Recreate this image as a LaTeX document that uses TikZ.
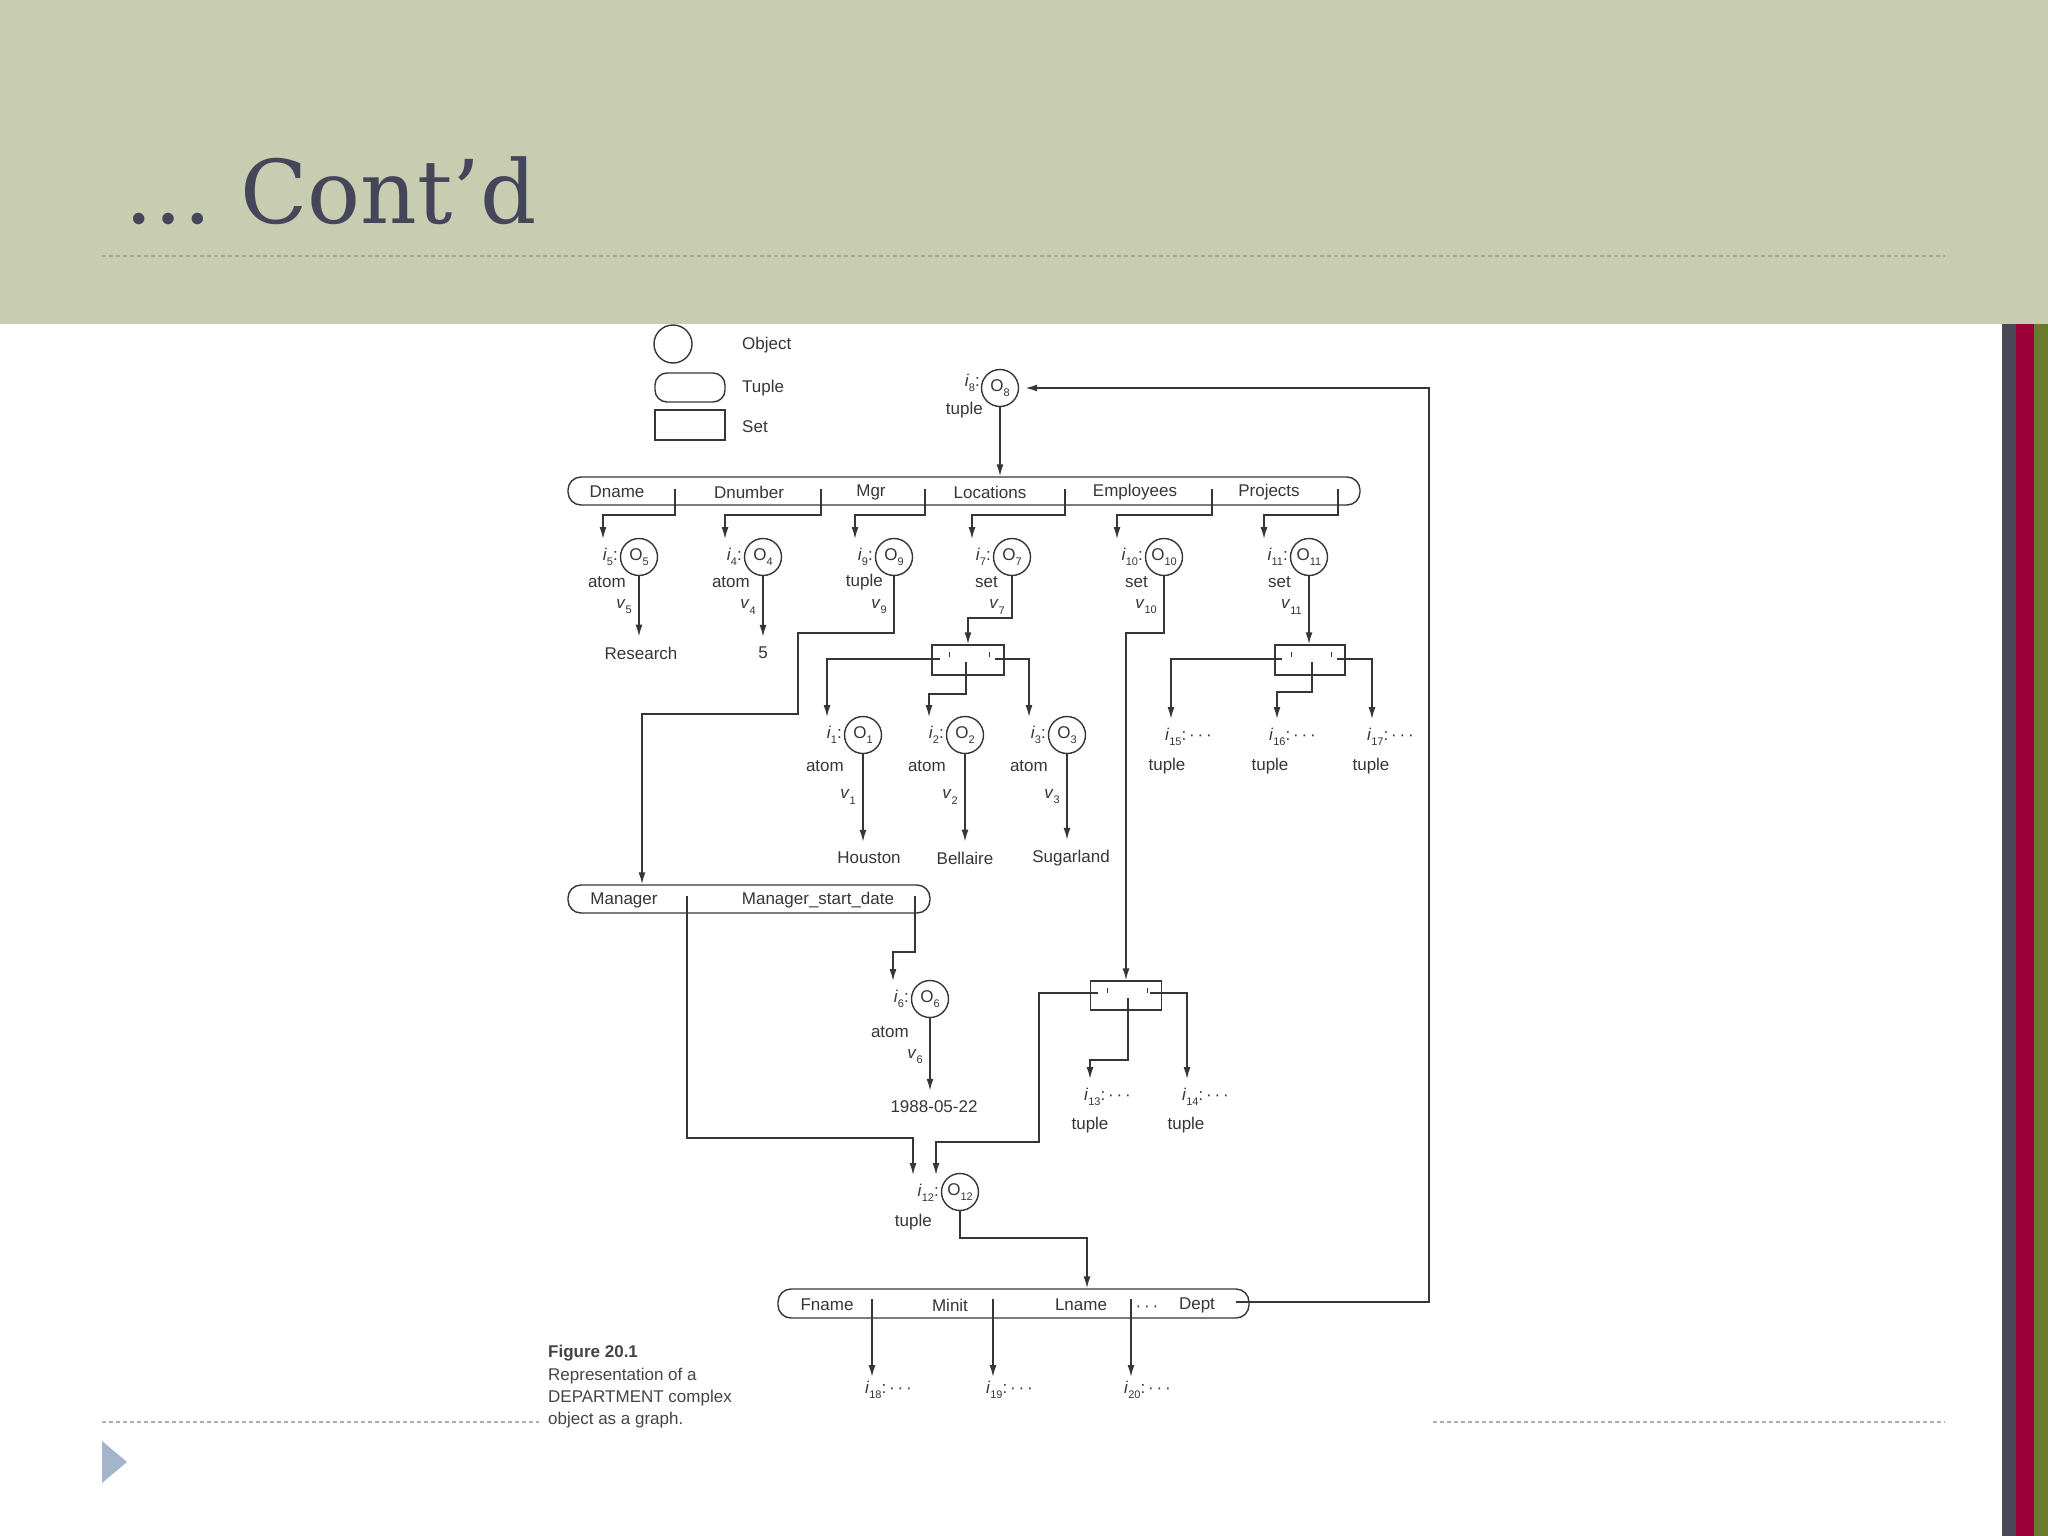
\documentclass[tikz,border=0pt]{standalone}
\usepackage{fontspec}
\setmainfont{Liberation Sans}
\newfontfamily\titlefont{DejaVu Serif}
\usetikzlibrary{arrows.meta,calc}
\definecolor{band}{HTML}{C8CCB1}
\definecolor{ink}{HTML}{363636}
\definecolor{titlec}{HTML}{46465A}
\definecolor{stripA}{HTML}{4A4856}
\definecolor{stripB}{HTML}{9B0036}
\definecolor{stripC}{HTML}{6A7A2C}
\definecolor{dashtop}{HTML}{A4A896}
\definecolor{dashbot}{HTML}{A3B2C6}
\definecolor{tric}{HTML}{A3B4CB}
\definecolor{capc}{HTML}{444444}
\newcommand\figf{\fontsize{17}{20}\selectfont}
\newcommand\sbs[1]{\raisebox{-0.3em}{\fontsize{11}{11}\selectfont #1}}
\newcommand\ilab[1]{\textit{i}\sbs{#1}}
\newcommand\vlab[1]{\textit{v}\sbs{#1}}
\newcommand\olab[1]{O\sbs{#1}}
\newcommand\dotsx{·\,·\,·}
\tikzset{
  fig/.style={font=\figf, text=ink, inner sep=1pt},
  objc/.style={circle, draw=ink, line width=1.4pt, minimum size=37pt, inner sep=0pt, font=\figf, text=ink},
  tup/.style={draw=ink, line width=1.4pt, rounded corners=13pt, minimum height=28pt},
  setbox/.style={draw=ink, line width=1.4pt, minimum height=30pt},
  con/.style={draw=ink, line width=1.6pt},
  arr/.style={con, -{Latex[length=12pt,width=7pt]}},
  lbl/.style={shorten >=8pt},
  setmark/.style={draw=ink, line width=1pt},
  capt/.style={font=\figf, text=capc, inner sep=0pt, anchor=west},
}
\newcommand\objg[8]{%
  \node[objc] (#1) at (#2,#3) {\olab{#4}};
  \node[fig,anchor=east] (#1i) at ($(#1)+(-20,0)$) {\ilab{#4}:};
  \node[fig,anchor=east] (#1t) at ($(#1)+(#8,#6)$) {#5};
  \node[fig,anchor=east] (#1v) at ($(#1)+(-6,#7)$) {\vlab{#4}};
}
\begin{document}
\begin{tikzpicture}[x=1pt,y=-1pt]
\useasboundingbox (0,0) rectangle (2048,1536);
\fill[white] (0,0) rectangle (2048,1536);
% slide frame
\fill[band] (0,0) rectangle (2048,324);
\node[anchor=base west, inner sep=0pt, text=titlec, font=\titlefont\fontsize{88}{100}\selectfont] (title) at (124,223) {… Cont’d};
\draw[dashtop, line width=1.6pt, dash pattern=on 4pt off 3pt] (102,256) -- (1945,256);
\fill[stripA] (2002,324) rectangle (2016,1536);
\fill[stripB] (2016,324) rectangle (2034,1536);
\fill[stripC] (2034,324) rectangle (2048,1536);
\draw[dashbot, line width=1.6pt, dash pattern=on 4pt off 3pt] (102,1422) -- (539,1422);
\draw[dashbot, line width=1.6pt, dash pattern=on 4pt off 3pt] (1433,1422) -- (1945,1422);
\fill[tric] (102,1441) -- (127,1462) -- (102,1483) -- cycle;

% legend
\node[objc, minimum size=38pt] (legO) at (673,344) {};
\node[tup, minimum width=70pt, minimum height=29pt, rounded corners=12pt] (legT) at (690,387.5) {};
\node[setbox, minimum width=70pt] (legS) at (690,425) {};
\node[fig, anchor=west] (legOt) at (741,345) {Object};
\node[fig, anchor=west] (legTt) at (741,388) {Tuple};
\node[fig, anchor=west] (legSt) at (741,427) {Set};

% root object
\node[objc] (O8) at (1000,388) {\olab{8}};
\node[fig, anchor=east] (O8i) at (981,383) {\ilab{8}:};
\node[fig, anchor=east] (O8t) at (984,410) {tuple};

% department tuple
\node[tup, minimum width=792pt] (main) at (964,491) {};
\node[fig] (fDname) at (617,492) {Dname};
\node[fig] (fDnum) at (749,492) {Dnumber};
\node[fig] (fMgr) at (871,492) {Mgr};
\node[fig] (fLoc) at (990,492) {Locations};
\node[fig] (fEmp) at (1135,492) {Employees};
\node[fig] (fProj) at (1269,492) {Projects};
\coordinate (k1) at (675,489);
\coordinate (k2) at (821,489);
\coordinate (k3) at (925,489);
\coordinate (k4) at (1065,489);
\coordinate (k5) at (1212,489);
\coordinate (k6) at (1338,489);
\draw[arr] (O8.south) -- (O8.south |- main.north);

% first row of objects
\objg{O5}{639}{557}{5}{atom}{25}{50}{-12}
\objg{O4}{763}{557}{4}{atom}{25}{50}{-12}
\objg{O9}{894}{557}{9}{tuple}{25}{50}{-10}
\objg{O7}{1012}{557}{7}{set}{25}{50}{-13}
\objg{O10}{1164}{557}{10}{set}{25}{50}{-15}
\objg{O11}{1309}{557}{11}{set}{25}{50}{-17}

\draw[arr, lbl] (k1) -- (675,515) -- (603,515) -- (603,515 |- O5i.north);
\draw[arr, lbl] (k2) -- (821,515) -- (725,515) -- (725,515 |- O4i.north);
\draw[arr, lbl] (k3) -- (925,515) -- (855,515) -- (855,515 |- O9i.north);
\draw[arr, lbl] (k4) -- (1065,515) -- (972,515) -- (972,515 |- O7i.north);
\draw[arr, lbl] (k5) -- (1212,515) -- (1117,515) -- (1117,515 |- O10i.north);
\draw[arr, lbl] (k6) -- (1338,515) -- (1264,515) -- (1264,515 |- O11i.north);

% atomic values
\node[fig] (vRes) at (641,653) {Research};
\node[fig] (vFive) at (763,653) {5};
\draw[arr, shorten >=9pt] (O5.south) -- (O5.south |- vRes.north);
\draw[arr, shorten >=9pt] (O4.south) -- (O4.south |- vFive.north);

% sets
\node[setbox, minimum width=72pt] (setL) at (968,660) {};
\node[setbox, minimum width=70pt] (setP) at (1310,660) {};
\node[setbox, minimum width=71pt, minimum height=29pt] (setE) at (1126,995.5) {};
\draw[setmark] (949,652) -- (949,657);
\draw[setmark] (989,652) -- (989,657);
\draw[setmark] (1291,652) -- (1291,657);
\draw[setmark] (1331,652) -- (1331,657);
\draw[setmark] (1107,988) -- (1107,993);
\draw[setmark] (1147,988) -- (1147,993);

\draw[arr] (O7.south) -- (1012,618) -- (968,618) -- (setL.north);
\draw[arr] (O11.south) -- (O11.south |- setP.north);
\draw[arr] (O10.south) -- (1164,633) -- (1126,633) -- (setE.north);

% Mgr value to Manager tuple
\node[tup, minimum width=362pt] (mgr) at (749,899) {};
\node[fig] (fMan) at (624,900) {Manager};
\node[fig] (fMsd) at (818,900) {Manager\_start\_date};
\coordinate (m1) at (687,896);
\coordinate (m2) at (915,896);
\draw[arr] (O9.south) -- (894,633) -- (798,633) -- (798,714) -- (642,714) -- (642,714 |- mgr.north);

% location objects
\objg{O1}{863}{735}{1}{atom}{31}{62}{-18}
\objg{O2}{965}{735}{2}{atom}{31}{62}{-18}
\objg{O3}{1067}{735}{3}{atom}{31}{62}{-18}
\coordinate (sL1) at (940,659);
\coordinate (sL2) at (995,659);
\coordinate (sLc) at (966,662);
\draw[arr, lbl] (sL1) -- (827,659) -- (827,659 |- O1i.north);
\draw[arr, lbl] (sLc) -- (966,694) -- (929,694) -- (929,694 |- O2i.north);
\draw[arr, lbl] (sL2) -- (1029,659) -- (1029,659 |- O3i.north);
\node[fig] (vHou) at (869,858) {Houston};
\node[fig] (vBel) at (965,858) {Bellaire};
\node[fig] (vSug) at (1071,858) {Sugarland};
\draw[arr, shorten >=9pt] (O1.south) -- (O1.south |- vHou.north);
\draw[arr, shorten >=9pt] (O2.south) -- (O2.south |- vBel.north);
\draw[arr, shorten >=9pt] (O3.south) -- (O3.south |- vSug.north);

% project elements
\node[fig, anchor=west] (i15) at (1164,737) {\ilab{15}:\,\dotsx};
\node[fig, anchor=west] (i16) at (1268,737) {\ilab{16}:\,\dotsx};
\node[fig, anchor=west] (i17) at (1366,737) {\ilab{17}:\,\dotsx};
\node[fig] (t15) at (1167,766) {tuple};
\node[fig] (t16) at (1270,766) {tuple};
\node[fig] (t17) at (1371,766) {tuple};
\coordinate (sP1) at (1282,659);
\coordinate (sP2) at (1337,659);
\coordinate (sPc) at (1312,662);
\draw[arr, lbl] (sP1) -- (1171,659) -- (1171,659 |- i15.north);
\draw[arr, lbl] (sPc) -- (1312,692) -- (1277,692) -- (1277,692 |- i16.north);
\draw[arr, lbl] (sP2) -- (1372,659) -- (1372,659 |- i17.north);

% manager start date
\objg{O6}{930}{999}{6}{atom}{33}{58}{-20}
\node[fig] (vDate) at (934,1107) {1988-05-22};
\draw[arr, lbl] (m2) -- (915,952) -- (893,952) -- (893,952 |- O6i.north);
\draw[arr, shorten >=9pt] (O6.south) -- (O6.south |- vDate.north);

% employee elements
\node[fig, anchor=west] (i13) at (1083,1097) {\ilab{13}:\,\dotsx};
\node[fig, anchor=west] (i14) at (1181,1097) {\ilab{14}:\,\dotsx};
\node[fig] (t13) at (1090,1125) {tuple};
\node[fig] (t14) at (1186,1125) {tuple};
\coordinate (eL) at (1098,993);
\coordinate (eR) at (1150,993);
\coordinate (eC) at (1128,998);
\draw[arr, lbl] (eC) -- (1128,1060) -- (1090,1060) -- (1090,1060 |- i13.north);
\draw[arr, lbl] (eR) -- (1187,993) -- (1187,993 |- i14.north);

% manager employee object
\node[objc] (O12) at (960,1192) {\olab{12}};
\node[fig, anchor=east] (O12i) at (940,1193) {\ilab{12}:};
\node[fig, anchor=east] (O12t) at (933,1222) {tuple};
\draw[arr, lbl] (m1) -- (687,1138) -- (913,1138) -- (913,1138 |- O12i.north);
\draw[arr, lbl] (eL) -- (1039,993) -- (1039,1142) -- (936,1142) -- (936,1142 |- O12i.north);

% employee tuple
\node[tup, minimum width=471pt, minimum height=29pt] (emp) at (1013.5,1303.5) {};
\node[fig] (fFn) at (827,1305) {Fname};
\node[fig] (fMi) at (950,1305) {Minit};
\node[fig] (fLn) at (1081,1305) {Lname};
\node[fig] (fDots) at (1147,1309) {\dotsx};
\node[fig] (fDept) at (1197,1305) {Dept};
\draw[arr] (O12.south) -- (960,1238) -- (1087,1238) -- (1087,1238 |- emp.north);
\coordinate (f1) at (872,1299);
\coordinate (f2) at (993,1299);
\coordinate (f3) at (1131,1299);
\node[fig, anchor=west] (i18) at (864,1390) {\ilab{18}:\,\dotsx};
\node[fig, anchor=west] (i19) at (985,1390) {\ilab{19}:\,\dotsx};
\node[fig, anchor=west] (i20) at (1123,1390) {\ilab{20}:\,\dotsx};
\draw[arr, shorten >=3pt] (f1) -- (872,1299 |- i18.north);
\draw[arr, shorten >=3pt] (f2) -- (993,1299 |- i19.north);
\draw[arr, shorten >=3pt] (f3) -- (1131,1299 |- i20.north);
\coordinate (dp) at (1236,1302);
\draw[arr, shorten >=6pt] (dp) -- (1429,1302) |- (O8.east);

% caption
\node[capt, font=\figf\bfseries] (cap1) at (548,1353) {Figure 20.1};
\node[capt] (cap2) at (548,1376) {Representation of a};
\node[capt] (cap3) at (548,1398) {DEPARTMENT complex};
\node[capt] (cap4) at (548,1420) {object as a graph.};
\end{tikzpicture}
\end{document}
